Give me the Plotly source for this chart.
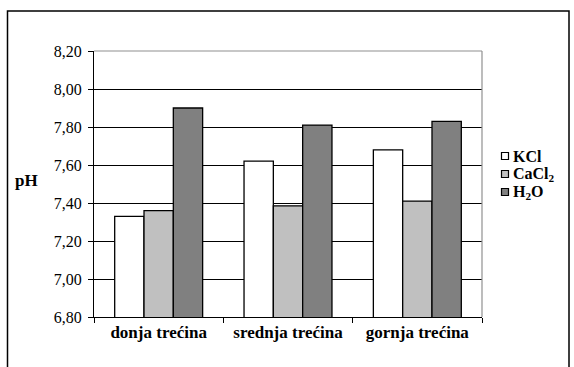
import plotly.graph_objects as go

categories = ["donja trećina", "srednja trećina", "gornja trećina"]
series_names = ["KCl", "CaCl<sub>2</sub>", "H<sub>2</sub>O"]
kcl = [7.33, 7.62, 7.68]
cacl2 = [7.36, 7.385, 7.41]
h2o = [7.90, 7.81, 7.83]
colors = ["#ffffff", "#c0c0c0", "#808080"]
y_ticks = [6.8, 7.0, 7.2, 7.4, 7.6, 7.8, 8.0, 8.2]

W, H = 574, 367
L, R, T, B = 94, 482, 51, 317
SERIF = "Liberation Serif"

fig = go.Figure()
for name, vals, c in zip(series_names, [kcl, cacl2, h2o], colors):
    fig.add_trace(go.Bar(x=categories, y=vals, name=name, showlegend=False,
                         marker=dict(color=c, line=dict(color="black", width=1.3))))

pw, ph = R - L, B - T
def px(x):
    return (x - L) / pw
def py(y):
    return (B - y) / ph

shapes = [
    dict(type="line", xref="paper", yref="paper", x0=0, x1=1, y0=1, y1=1, line=dict(color="#909090", width=1.2)),
    dict(type="line", xref="paper", yref="paper", x0=1, x1=1, y0=0, y1=1, line=dict(color="#909090", width=1.2)),
    dict(type="rect", xref="paper", yref="paper", x0=px(7.5), x1=px(569), y0=py(400), y1=py(11),
         line=dict(color="black", width=1.5), fillcolor="rgba(0,0,0,0)", layer="above"),
]
annotations = [
    dict(text="<b>pH</b>", xref="paper", yref="paper", x=px(26), y=py(180), xanchor="center", yanchor="middle",
         showarrow=False, font=dict(family=SERIF, size=17, color="black")),
]
# legend (manual, to match compact spacing)
for i, (name, c) in enumerate(zip(series_names, colors)):
    yc = 156 + 18 * i
    shapes.append(dict(type="rect", xref="paper", yref="paper", x0=px(501.5), x1=px(508.5),
                       y0=py(yc + 3.5), y1=py(yc - 3.5), line=dict(color="black", width=1.2), fillcolor=c))
    annotations.append(dict(text="<b>%s</b>" % name, xref="paper", yref="paper", x=px(511), y=py(yc),
                            xanchor="left", yanchor="middle", showarrow=False,
                            font=dict(family=SERIF, size=16, color="black")))

fig.update_layout(
    width=W, height=H,
    margin=dict(l=L, r=W - R, t=T, b=H - B, autoexpand=False),
    paper_bgcolor="white", plot_bgcolor="white",
    barmode="group", bargap=0.32, bargroupgap=0,
    separators=",.",
    font=dict(family=SERIF, color="black", size=14),
    showlegend=False,
    xaxis=dict(showline=True, linecolor="black", linewidth=1, ticks="outside", tickson="boundaries",
               ticklen=5, tickcolor="black", showgrid=False, automargin=False,
               tickvals=categories, ticktext=["<b>%s</b>" % c for c in categories],
               tickfont=dict(family=SERIF, size=17, color="black")),
    yaxis=dict(range=[6.8, 8.2], tickvals=y_ticks, tickformat=".2f", showline=True, linecolor="black",
               linewidth=1, ticks="outside", ticklen=5, tickcolor="black", showgrid=True,
               gridcolor="black", gridwidth=1, zeroline=False, automargin=False, ticklabelstandoff=3,
               tickfont=dict(family=SERIF, size=16, color="black")),
    shapes=shapes,
    annotations=annotations,
)

fig.write_html("out.html", config={"displayModeBar": False},
               post_script="document.body.style.margin='0';document.body.style.overflow='hidden';")
